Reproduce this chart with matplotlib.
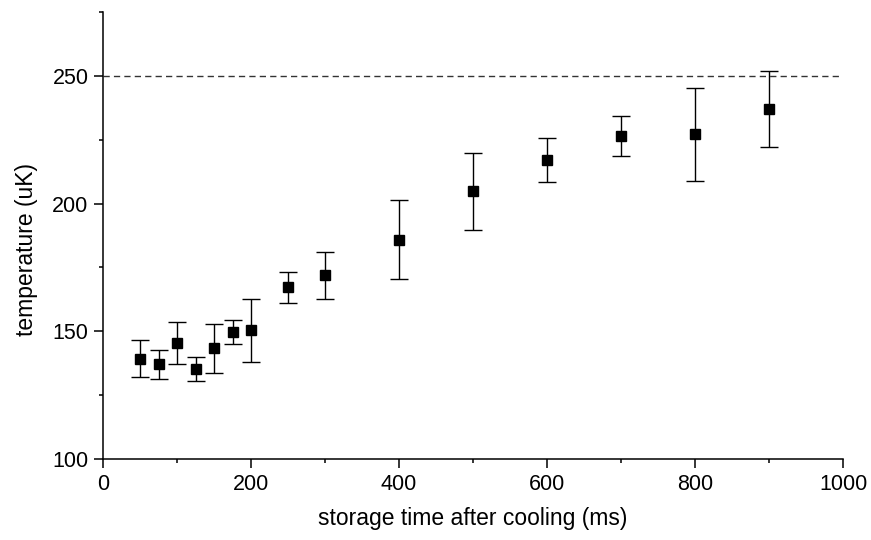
import numpy as np
import matplotlib.pyplot as plt
from matplotlib.ticker import MultipleLocator

plt.rcParams['font.family'] = ['Liberation Sans', 'DejaVu Sans']

# storage time (ms) and measured temperature (uK) with asymmetric error bars
time_ms = [50, 75, 100, 125, 150, 175, 200, 250, 300, 400, 500, 600, 700, 800, 900]
temp_uK = [139.3, 137.1, 145.4, 135.2, 143.5, 149.7, 150.3, 167.2, 171.9,
           185.9, 204.8, 217.1, 226.3, 227.2, 236.8]
err_top = [146.5, 142.7, 153.6, 139.8, 153.0, 154.3, 162.5, 173.0, 181.1,
           201.4, 219.9, 225.5, 234.1, 245.3, 251.7]
err_bot = [132.0, 131.4, 137.2, 130.5, 133.7, 145.2, 137.9, 161.2, 162.6,
           170.3, 189.5, 208.5, 218.4, 209.0, 222.0]
limit_uK = 250

y = np.array(temp_uK)
yerr = [y - np.array(err_bot), np.array(err_top) - y]

fig = plt.figure(figsize=(8.71, 5.4), dpi=100)
ax = fig.add_axes([0.1183, 0.15, 0.8497, 0.828])

ax.axhline(limit_uK, color='#333333', lw=1.0, dashes=(4.5, 3))
ax.errorbar(time_ms, y, yerr=yerr, fmt='s', color='black', ms=7,
            ecolor='black', elinewidth=1.0, capsize=6.5, capthick=1.0)

ax.set_xlim(0, 1000)
ax.set_ylim(100, 275)
ax.xaxis.set_major_locator(MultipleLocator(200))
ax.xaxis.set_minor_locator(MultipleLocator(100))
ax.yaxis.set_major_locator(MultipleLocator(50))
ax.yaxis.set_minor_locator(MultipleLocator(25))
ax.set_yticks([100, 150, 200, 250])

for s in ['top', 'right']:
    ax.spines[s].set_visible(False)
for s in ['left', 'bottom']:
    ax.spines[s].set_linewidth(1.1)

ax.tick_params(which='major', direction='out', length=6.5, width=1.1,
               labelsize=15.5, pad=4)
ax.tick_params(which='minor', direction='out', length=3, width=1.1)

ax.set_xlabel('storage time after cooling (ms)', fontsize=16.5, labelpad=9)
ax.set_ylabel('temperature (uK)', fontsize=16.5, labelpad=10)
ax.yaxis.label.set_y(0.469)

fig.savefig('out.png', dpi=100)
